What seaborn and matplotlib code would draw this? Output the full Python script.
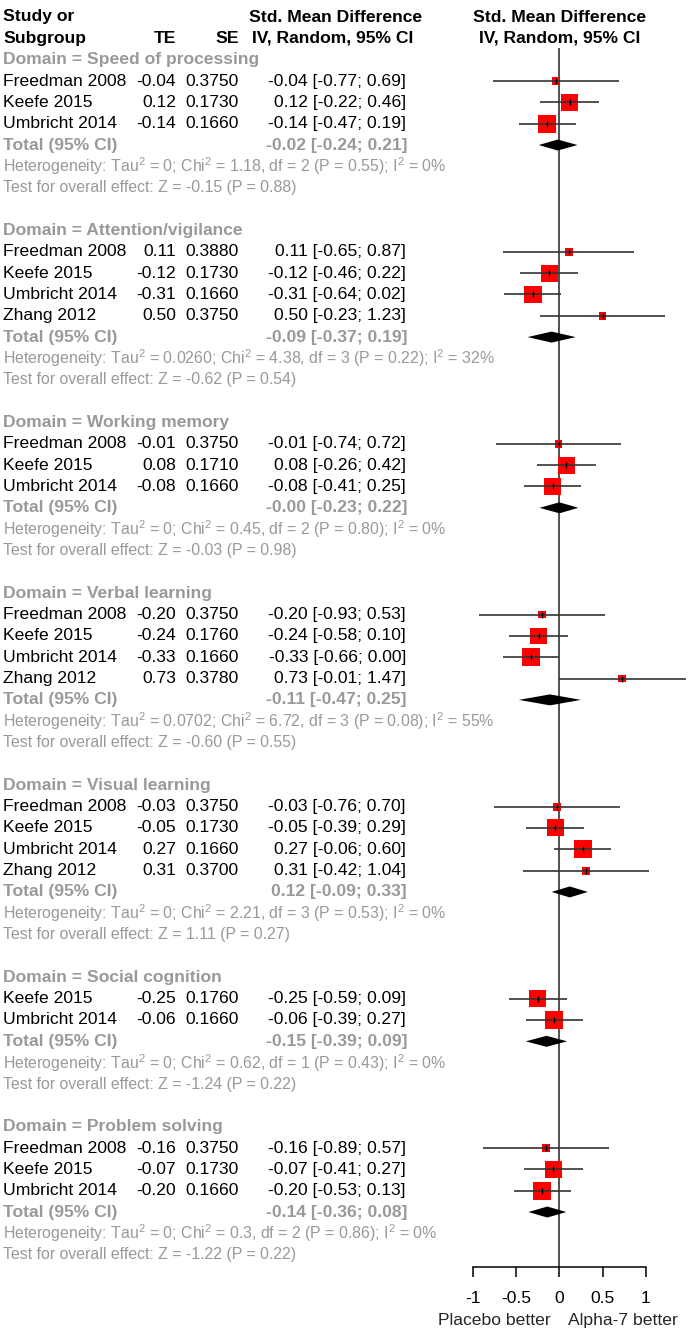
import numpy as np
import pandas as pd
import matplotlib
matplotlib.use("Agg")
import matplotlib.pyplot as plt
import seaborn as sns

# ---------------- data ----------------
domains = ["Speed of processing", "Attention/vigilance", "Working memory",
           "Verbal learning", "Visual learning", "Social cognition", "Problem solving"]

study_domain = [0, 0, 0, 1, 1, 1, 1, 2, 2, 2, 3, 3, 3, 3, 4, 4, 4, 4, 5, 5, 6, 6, 6]
study_name = ["Freedman 2008", "Keefe 2015", "Umbricht 2014",
              "Freedman 2008", "Keefe 2015", "Umbricht 2014", "Zhang 2012",
              "Freedman 2008", "Keefe 2015", "Umbricht 2014",
              "Freedman 2008", "Keefe 2015", "Umbricht 2014", "Zhang 2012",
              "Freedman 2008", "Keefe 2015", "Umbricht 2014", "Zhang 2012",
              "Keefe 2015", "Umbricht 2014",
              "Freedman 2008", "Keefe 2015", "Umbricht 2014"]
te = [-0.04, 0.12, -0.14,
      0.11, -0.12, -0.31, 0.50,
      -0.01, 0.08, -0.08,
      -0.20, -0.24, -0.33, 0.73,
      -0.03, -0.05, 0.27, 0.31,
      -0.25, -0.06,
      -0.16, -0.07, -0.20]
se = [0.3750, 0.1730, 0.1660,
      0.3880, 0.1730, 0.1660, 0.3750,
      0.3750, 0.1710, 0.1660,
      0.3750, 0.1760, 0.1660, 0.3780,
      0.3750, 0.1730, 0.1660, 0.3700,
      0.1760, 0.1660,
      0.3750, 0.1730, 0.1660]
ci_lo = [-0.77, -0.22, -0.47,
         -0.65, -0.46, -0.64, -0.23,
         -0.74, -0.26, -0.41,
         -0.93, -0.58, -0.66, -0.01,
         -0.76, -0.39, -0.06, -0.42,
         -0.59, -0.39,
         -0.89, -0.41, -0.53]
ci_hi = [0.69, 0.46, 0.19,
         0.87, 0.22, 0.02, 1.23,
         0.72, 0.42, 0.25,
         0.53, 0.10, 0.00, 1.47,
         0.70, 0.29, 0.60, 1.04,
         0.09, 0.27,
         0.57, 0.27, 0.13]

total_est = [-0.02, -0.09, -0.0, -0.11, 0.12, -0.15, -0.14]
total_lo = [-0.24, -0.37, -0.23, -0.47, -0.09, -0.39, -0.36]
total_hi = [0.21, 0.19, 0.22, 0.25, 0.33, 0.09, 0.08]

het_tau2 = ["0", "0.0260", "0", "0.0702", "0", "0", "0"]
het_chi2 = ["1.18", "4.38", "0.45", "6.72", "2.21", "0.62", "0.3"]
het_df = [2, 3, 2, 3, 3, 1, 2]
het_p = ["0.55", "0.22", "0.80", "0.08", "0.53", "0.43", "0.86"]
het_i2 = ["0%", "32%", "0%", "55%", "0%", "0%", "0%"]
test_z = ["-0.15", "-0.62", "-0.03", "-0.60", "1.11", "-1.24", "-1.22"]
test_p = ["0.88", "0.54", "0.98", "0.55", "0.27", "0.22", "0.22"]

tick_values = [-1, -0.5, 0, 0.5, 1]
tick_labels = ["-1", "-0.5", "0", "0.5", "1"]
label_left = "Placebo better"
label_right = "Alpha-7 better"

# ---------------- layout ----------------
W, H, DPI = 690, 1339, 100
ROW0, ROWH = 17.0, 21.34          # pixel y of row 0, row height
def prow(py):
    return (py - ROW0) / ROWH

FS = 12.6
FS_SMALL = 11.4
GRAY = "#999999"
LINE = "#333333"

sns.set_theme(style="white")
plt.rcParams["font.family"] = ["Liberation Sans", "DejaVu Sans"]
plt.rcParams["mathtext.fontset"] = "custom"
plt.rcParams["mathtext.rm"] = "Liberation Sans"
plt.rcParams["mathtext.it"] = "Liberation Sans:italic"
plt.rcParams["mathtext.bf"] = "Liberation Sans:bold"

df = pd.DataFrame({"domain": study_domain, "study": study_name, "TE": te,
                   "SE": se, "lo": ci_lo, "hi": ci_hi})
df["w"] = 1.0 / df["SE"] ** 2

# assign rows
rows = np.zeros(len(df))
dom_rows, tot_rows, het_rows, test_rows = [], [], [], []
r = 2
for d in range(len(domains)):
    idx = np.where(df["domain"].values == d)[0]
    dom_rows.append(r)
    for j, i in enumerate(idx):
        rows[i] = r + 1 + j
    tot_rows.append(r + 1 + len(idx))
    het_rows.append(r + 2 + len(idx))
    test_rows.append(r + 3 + len(idx))
    r += len(idx) + 5
df["row"] = rows

ylim = (prow(H), prow(0))

fig = plt.figure(figsize=(W / DPI, H / DPI), dpi=DPI)
fig.patch.set_facecolor("white")

# text axes (pixel x units)
tax = fig.add_axes([0, 0, 1, 1])
tax.set_xlim(0, W)
tax.set_ylim(*ylim)
tax.axis("off")

X_STUDY, X_TE, X_SE, X_CI = 3, 176, 239, 406

hdr = dict(fontsize=FS, fontweight="bold", va="center", color="black")
tax.text(X_STUDY, 0, "Study or", ha="left", **hdr)
tax.text(X_STUDY, 1, "Subgroup", ha="left", **hdr)
tax.text(X_TE, 1, "TE", ha="right", **hdr)
tax.text(X_SE, 1, "SE", ha="right", **hdr)
tax.text(249, 0, "Std. Mean Difference", ha="left", **hdr)
tax.text(252, 1, "IV, Random, 95% CI", ha="left", **hdr)

for _, s in df.iterrows():
    kw = dict(fontsize=FS, va="center", color="black")
    tax.text(X_STUDY, s["row"], s["study"], ha="left", **kw)
    tax.text(X_TE, s["row"], f"{s['TE']:.2f}", ha="right", **kw)
    tax.text(X_SE, s["row"], f"{s['SE']:.4f}", ha="right", **kw)
    tax.text(X_CI, s["row"], f"{s['TE']:.2f} [{s['lo']:.2f}; {s['hi']:.2f}]",
             ha="right", **kw)

SUP = r"$^{2}$"
for d in range(len(domains)):
    b = dict(fontsize=FS, fontweight="bold", va="center", color=GRAY)
    tax.text(X_STUDY, dom_rows[d], f"Domain = {domains[d]}", ha="left", **b)
    tax.text(X_STUDY, tot_rows[d], "Total (95% CI)", ha="left", **b)
    tax.text(X_CI + 1, tot_rows[d],
             f"{total_est[d]:.2f} [{total_lo[d]:.2f}; {total_hi[d]:.2f}]",
             ha="right", **b)
    sm = dict(fontsize=FS_SMALL, va="center", color=GRAY, ha="left")
    tax.text(X_STUDY, het_rows[d],
             f"Heterogeneity: Tau{SUP} = {het_tau2[d]}; Chi{SUP} = {het_chi2[d]}, "
             f"df = {het_df[d]} (P = {het_p[d]}); I{SUP} = {het_i2[d]}", **sm)
    tax.text(X_STUDY, test_rows[d],
             f"Test for overall effect: Z = {test_z[d]} (P = {test_p[d]})", **sm)

# forest axes
X0, UNIT = 559.4, 86.2
FL = 455
fax = fig.add_axes([FL / W, 0, (W - FL) / W, 1])
fax.patch.set_alpha(0)
fax.set_xlim((FL - X0) / UNIT, (W - X0) / UNIT)
fax.set_ylim(*ylim)

axis_row = prow(1267)
fax.vlines(0, prow(48), axis_row, color=LINE, lw=1.2, zorder=1)

# squares (area proportional to inverse-variance weight)
k_side_pt = 2.94 * 72 / DPI
smax = (k_side_pt ** 2) * df["w"].max()
sns.scatterplot(data=df, x="TE", y="row", size="w", sizes=(0, smax),
                size_norm=(0, df["w"].max()), marker="s", color="#FF0000",
                linewidth=0, legend=False, ax=fax, zorder=2)
fax.hlines(df["row"], df["lo"], df["hi"], color=LINE, lw=1.2, zorder=3)
fax.plot(df["TE"], df["row"], ls="none", marker="|", ms=4, mew=1.0,
         color="black", zorder=4)

# diamonds
hh = 5.5 / ROWH
for d in range(len(domains)):
    yy = tot_rows[d]
    fax.fill([total_lo[d], total_est[d], total_hi[d], total_est[d]],
             [yy, yy - hh, yy, yy + hh], color="black", lw=0, zorder=4)

# bottom axis
for sp in ["top", "left", "right"]:
    fax.spines[sp].set_visible(False)
fax.spines["bottom"].set_position(("data", axis_row))
fax.spines["bottom"].set_bounds(-1, 1)
fax.spines["bottom"].set_color("black")
fax.spines["bottom"].set_linewidth(1.1)
fax.set_xticks(tick_values)
fax.set_xticklabels(tick_labels)
fax.set_yticks([])
fax.tick_params(axis="x", direction="out", length=7.2, width=1.1, pad=10,
                labelsize=FS, colors="black", bottom=True)
fax.set_xlabel("")
fax.set_ylabel("")
fax.text(-0.1, prow(1320), label_left, ha="right", va="center", fontsize=FS)
fax.text(0.1, prow(1320), label_right, ha="left", va="center", fontsize=FS)

fax.text(0, 0, "Std. Mean Difference", ha="center", **hdr)
fax.text(0, 1, "IV, Random, 95% CI", ha="center", **hdr)

fig.savefig("out.png", dpi=DPI, facecolor="white")
